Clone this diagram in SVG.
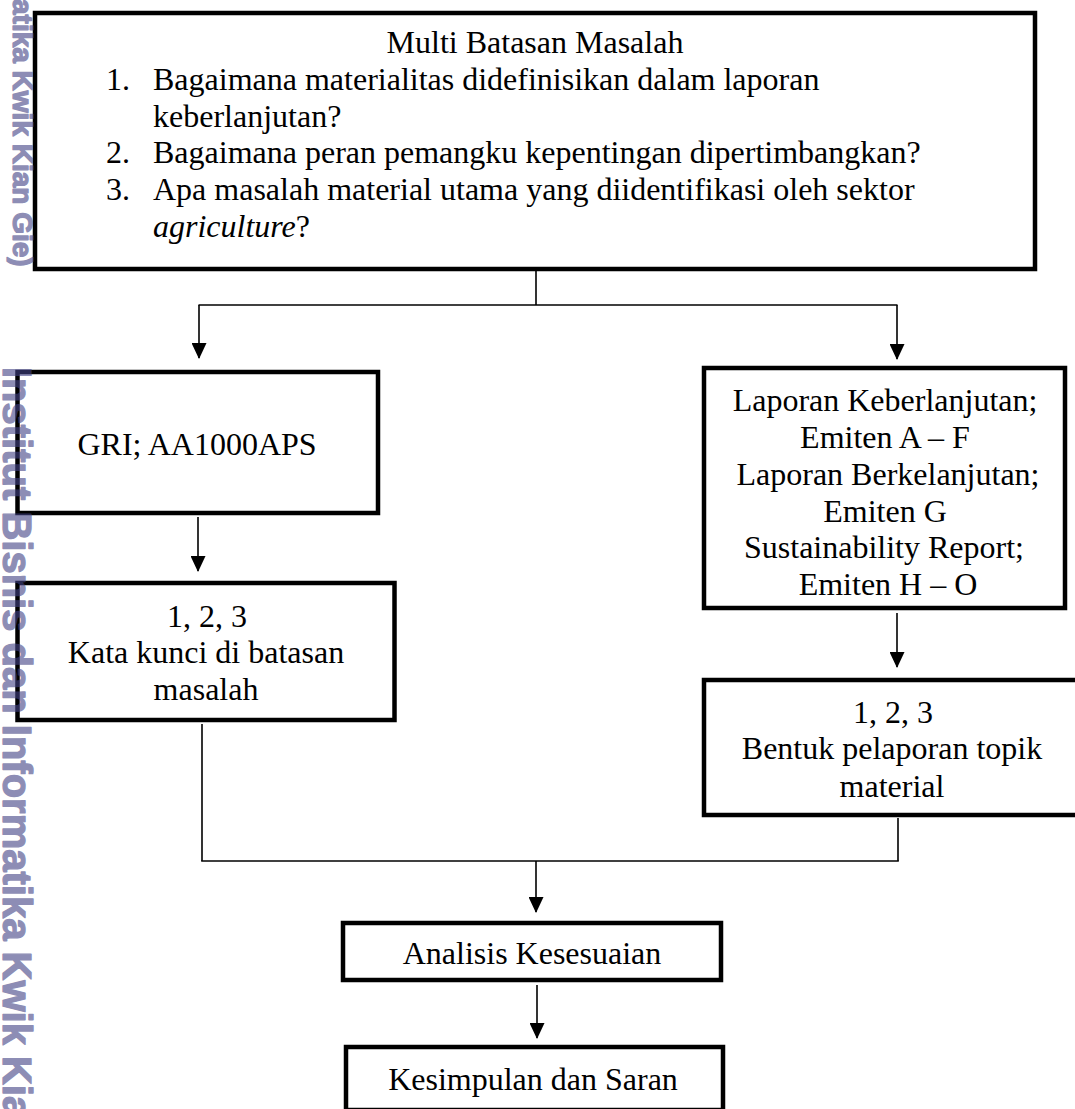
<svg xmlns="http://www.w3.org/2000/svg" width="1075" height="1109" viewBox="0 0 1075 1109">
<style>
.box{fill:#fff;stroke:#000;stroke-width:4.5}
.t{font-family:"Liberation Serif","Times New Roman",serif;font-size:32px;fill:#000}
.c{text-anchor:middle}
.ln{fill:none;stroke:#000;stroke-width:1.6}
.wm{font-family:"Liberation Sans",Arial,sans-serif;font-weight:bold;fill:#434385;stroke:#434385;stroke-width:1.3;stroke-linejoin:round}
</style>
<defs>
<marker id="ah" viewBox="0 0 16 15" markerWidth="16" markerHeight="15" refX="15" refY="7.5" orient="auto" markerUnits="userSpaceOnUse">
<path d="M0,0 L16,7.5 L0,15 z" fill="#000"/>
</marker>
</defs>
<rect width="1075" height="1109" fill="#fff"/>
<g id="connectors">
<line class="ln" x1="536" y1="271" x2="536" y2="305"/>
<line class="ln" x1="198.5" y1="305" x2="897.5" y2="305"/>
<line class="ln" x1="199" y1="305" x2="199" y2="358" marker-end="url(#ah)"/>
<line class="ln" x1="897" y1="305" x2="897" y2="359" marker-end="url(#ah)"/>
<line class="ln" x1="198" y1="517" x2="198" y2="571" marker-end="url(#ah)"/>
<line class="ln" x1="897" y1="613" x2="897" y2="667" marker-end="url(#ah)"/>
<line class="ln" x1="202" y1="724" x2="202" y2="861"/>
<line class="ln" x1="898" y1="818" x2="898" y2="861"/>
<line class="ln" x1="201.2" y1="861" x2="898.8" y2="861"/>
<line class="ln" x1="536" y1="861" x2="536" y2="912" marker-end="url(#ah)"/>
<line class="ln" x1="537" y1="985" x2="537" y2="1038" marker-end="url(#ah)"/>
</g>
<g id="n-top">
<rect class="box" x="35" y="13" width="1000" height="256"/>
<text class="t c" x="535" y="53">Multi Batasan Masalah</text>
<text class="t" x="106" y="90">1.</text>
<text class="t" x="153" y="90">Bagaimana materialitas didefinisikan dalam laporan</text>
<text class="t" x="153" y="127">keberlanjutan?</text>
<text class="t" x="106" y="163">2.</text>
<text class="t" x="153" y="163">Bagaimana peran pemangku kepentingan dipertimbangkan?</text>
<text class="t" x="106" y="200">3.</text>
<text class="t" x="153" y="200">Apa masalah material utama yang diidentifikasi oleh sektor</text>
<text class="t" x="153" y="237"><tspan font-style="italic">agriculture</tspan>?</text>
</g>
<g id="n-gri">
<rect class="box" x="17.5" y="372" width="360.5" height="141"/>
<text class="t c" x="197" y="455">GRI; AA1000APS</text>
</g>
<g id="n-kata">
<rect class="box" x="17.5" y="583" width="377" height="137"/>
<text class="t c" x="207" y="627">1, 2, 3</text>
<text class="t c" x="206" y="663">Kata kunci di batasan</text>
<text class="t c" x="206" y="700">masalah</text>
</g>
<g id="n-laporan">
<rect class="box" x="704" y="368" width="361" height="240"/>
<text class="t c" x="885" y="411">Laporan Keberlanjutan;</text>
<text class="t c" x="885" y="448">Emiten A – F</text>
<text class="t c" x="888" y="485">Laporan Berkelanjutan;</text>
<text class="t c" x="885" y="522">Emiten G</text>
<text class="t c" x="884" y="558">Sustainability Report;</text>
<text class="t c" x="888" y="595">Emiten H – O</text>
</g>
<g id="n-bentuk">
<rect class="box" x="704" y="680" width="378" height="135"/>
<text class="t c" x="893" y="723">1, 2, 3</text>
<text class="t c" x="892" y="759">Bentuk pelaporan topik</text>
<text class="t c" x="892" y="797">material</text>
</g>
<g id="n-analisis">
<rect class="box" x="343" y="923" width="378" height="57"/>
<text class="t c" x="532" y="964">Analisis Kesesuaian</text>
</g>
<g id="n-kesimpulan">
<rect class="box" x="346" y="1047" width="377" height="63"/>
<text class="t c" x="533" y="1090">Kesimpulan dan Saran</text>
</g>
<g id="watermark" opacity="0.6">
<text class="wm" font-size="28" transform="translate(13,-1) rotate(90)">atika Kwik Kian Gie)</text>
<text class="wm" font-size="40" transform="translate(3,367) rotate(90)">Institut Bisnis dan Informatika Kwik Kia</text>
</g>
</svg>
